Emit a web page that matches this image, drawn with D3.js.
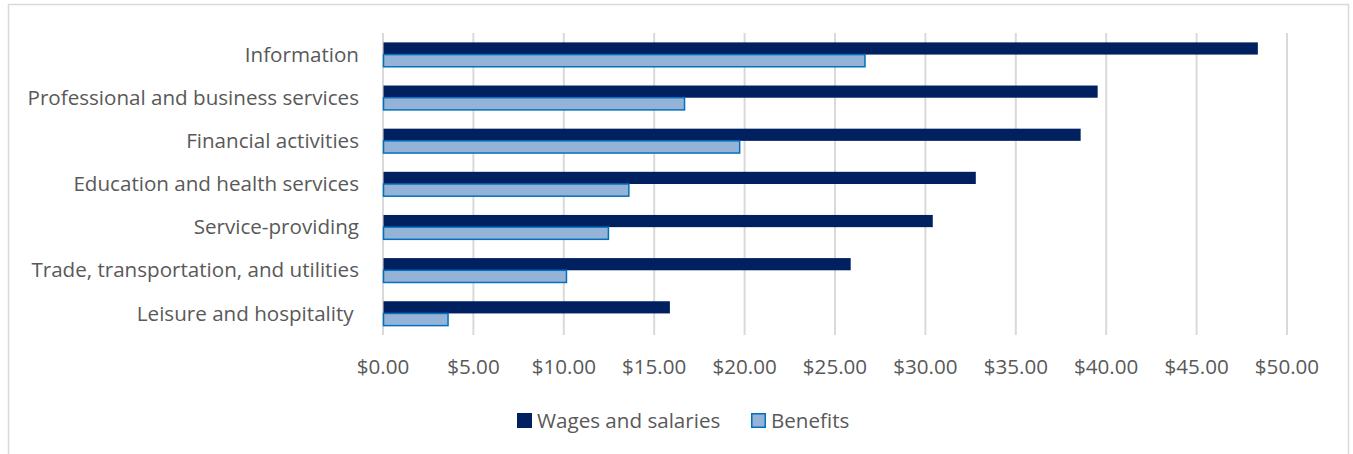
<!DOCTYPE html>
<html>
<head>
<meta charset="utf-8">
<script src="https://cdn.jsdelivr.net/npm/d3@7"></script>
<style>
  body { margin: 0; background: #fff; }
  svg { display: block; font-family: "Open Sans", Lato, sans-serif; }
</style>
</head>
<body>
<div id="chart"></div>
<script>
// categories, top to bottom
var categories = ["Information", "Professional and business services", "Financial activities",
    "Education and health services", "Service-providing", "Trade, transportation, and utilities",
    "Leisure and hospitality "];
var seriesNames = ["Wages and salaries", "Benefits"];
var wages = [48.36, 39.50, 38.56, 32.76, 30.38, 25.84, 15.84];
var benefits = [26.63, 16.65, 19.70, 13.57, 12.44, 10.12, 3.57];
var tickValues = [0, 5, 10, 15, 20, 25, 30, 35, 40, 45, 50];

var width = 1353, height = 454;
var margin = { top: 33, right: 66, bottom: 119, left: 383 };
var fontSize = "20.6px";

var svg = d3.select("#chart").append("svg")
    .attr("width", width)
    .attr("height", height);

// chart border
svg.append("rect")
    .attr("x", 8.5).attr("y", 4.5)
    .attr("width", 1340).attr("height", 454)
    .attr("fill", "#fff")
    .attr("stroke", "#d9d9d9")
    .attr("stroke-width", 1.5);

var x = d3.scaleLinear().domain([0, 50]).range([margin.left, width - margin.right]);
var y = d3.scaleBand().domain(categories).range([margin.top, height - margin.bottom]);
var y1 = d3.scaleBand().domain(seriesNames).range([0, y.bandwidth()]).paddingOuter(0.77);

var color = { "Wages and salaries": "#002060", "Benefits": "#95b3d7" };
var stroke = { "Wages and salaries": "#002060", "Benefits": "#0070c0" };

// gridlines
svg.append("g").selectAll("line")
    .data(tickValues)
    .enter().append("line")
    .attr("x1", function (d) { return x(d); })
    .attr("x2", function (d) { return x(d); })
    .attr("y1", margin.top)
    .attr("y2", height - margin.bottom)
    .attr("stroke", "#d9d9d9")
    .attr("stroke-width", 2);

// tick labels
svg.append("g").selectAll("text")
    .data(tickValues)
    .enter().append("text")
    .attr("x", function (d) { return x(d); })
    .attr("y", 374)
    .attr("text-anchor", "middle")
    .attr("font-size", fontSize)
    .attr("fill", "#595959")
    .text(function (d) { return "$" + d3.format(".2f")(d); });

// bars
var rows = categories.map(function (c, i) {
    return { cat: c, values: [{ key: "Wages and salaries", v: wages[i] }, { key: "Benefits", v: benefits[i] }] };
});

var group = svg.append("g").selectAll("g")
    .data(rows)
    .enter().append("g")
    .attr("transform", function (d) { return "translate(0," + y(d.cat) + ")"; });

group.selectAll("rect")
    .data(function (d) { return d.values; })
    .enter().append("rect")
    .attr("x", x(0) + 0.5)
    .attr("y", function (d) { return y1(d.key); })
    .attr("width", function (d) { return x(d.v) - x(0); })
    .attr("height", y1.bandwidth())
    .attr("fill", function (d) { return color[d.key]; })
    .attr("stroke", function (d) { return stroke[d.key]; })
    .attr("stroke-width", function (d) { return d.key == "Benefits" ? 1.5 : 0; });

// category labels
svg.append("g").selectAll("text")
    .data(categories)
    .enter().append("text")
    .attr("x", margin.left - 24)
    .attr("y", function (d) { return y(d) + y.bandwidth() / 2; })
    .attr("dy", ".35em")
    .attr("text-anchor", "end")
    .attr("font-size", fontSize)
    .attr("fill", "#595959")
    .style("white-space", "pre")
    .text(function (d) { return d; });

// legend
var legendX = [517, 751];
var legend = svg.append("g").selectAll("g")
    .data(seriesNames)
    .enter().append("g")
    .attr("transform", function (d, i) { return "translate(" + legendX[i] + ",413)"; });

legend.append("rect")
    .attr("x", 0.75).attr("y", 0.75)
    .attr("width", 13.5).attr("height", 13.5)
    .attr("fill", function (d) { return color[d]; })
    .attr("stroke", function (d) { return stroke[d]; })
    .attr("stroke-width", 1.5);

legend.append("text")
    .attr("x", 20)
    .attr("y", 7.5)
    .attr("dy", ".35em")
    .attr("font-size", fontSize)
    .attr("fill", "#595959")
    .text(function (d) { return d; });
</script>
</body>
</html>
